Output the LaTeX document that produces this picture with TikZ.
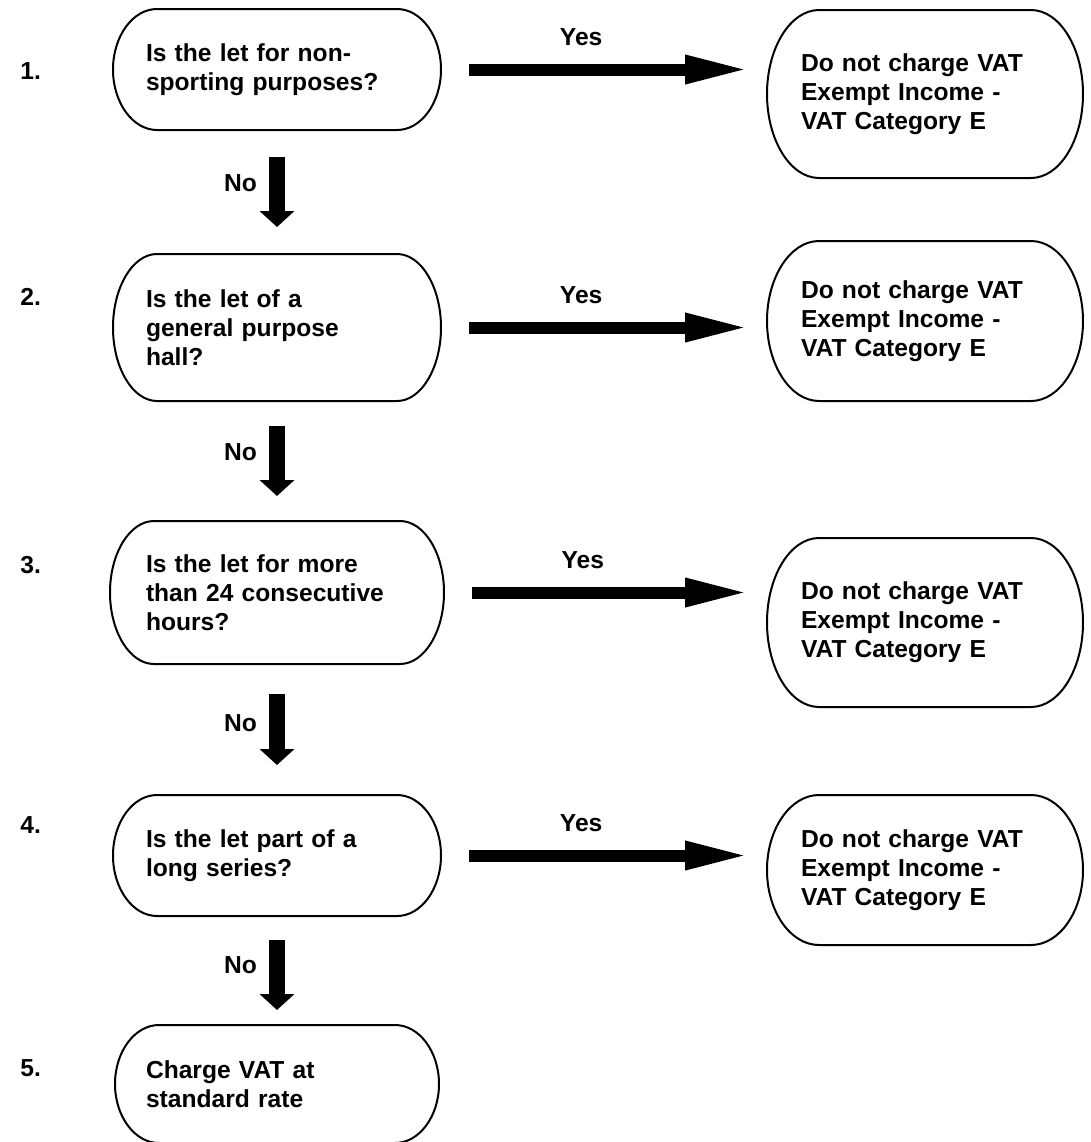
\documentclass[tikz,border=0pt]{standalone}
\usepackage{fontspec}
\setmainfont{Liberation Sans}
\usetikzlibrary{arrows.meta,calc}

\tikzset{
  boxtext/.style={inner sep=0pt, outer sep=0pt, align=left,
    font=\fontsize{12.3pt}{14.5pt}\selectfont\bfseries},
  askbox/.style={boxtext, text width=131pt, minimum width=164pt},
  endbox/.style={boxtext, text width=124pt, minimum width=158pt},
  boxline/.style={line width=1pt, line join=round},
  yesarrow/.style={line width=6pt, -{Triangle[length=32.5pt,width=13pt]},
    shorten <=14pt, shorten >=8.5pt},
  noarrow/.style={line width=8pt, -{Triangle[length=8pt,width=17pt]}},
  steplabel/.style={inner sep=0pt, font=\fontsize{12.3pt}{14.5pt}\selectfont\bfseries}
}

\begin{document}
\begin{tikzpicture}[x=0.5pt,y=-0.5pt]
  \useasboundingbox (0,0) rectangle (1091,1142);

  % Questions
  \node[askbox, minimum height=60.5pt] (q1) at (277,69.5) {Is the let for non-\\sporting purposes?};
  \node[askbox, minimum height=73.5pt] (q2) at (277,327.5) {Is the let of a\\general purpose\\hall?};
  \node[askbox, minimum height=71.5pt, minimum width=167pt] (q3) at (277,592.5) {Is the let for more\\than 24 consecutive\\hours?};
  \node[askbox, minimum height=60.5pt] (q4) at (277,855.5) {Is the let part of a\\long series?};
  \node[askbox, minimum height=59pt, minimum width=162pt] (q5) at (277,1084) {Charge VAT at\\standard rate};

  % Outcomes
  \node[endbox, minimum height=84pt] (r1) at (925,94) {Do not charge VAT\\Exempt Income -\\VAT Category E};
  \node[endbox, minimum height=80pt] (r2) at (925,321) {Do not charge VAT\\Exempt Income -\\VAT Category E};
  \node[endbox, minimum height=84.5pt] (r3) at (925,622.5) {Do not charge VAT\\Exempt Income -\\VAT Category E};
  \node[endbox, minimum height=75pt] (r4) at (925,870) {Do not charge VAT\\Exempt Income -\\VAT Category E};

  % Step numbers
  \node[steplabel, anchor=west] (n1) at (20,71) {1.};
  \node[steplabel, anchor=west] (n2) at (20,297) {2.};
  \node[steplabel, anchor=west] (n3) at (20,565) {3.};
  \node[steplabel, anchor=west] (n4) at (20,825) {4.};
  \node[steplabel, anchor=west] (n5) at (20,1068) {5.};

  % Draw the box outlines
  \foreach \n/\r in {q1/44,q2/44,q3/44,q4/44,q5/44,r1/52,r2/52,r3/52,r4/52}
    \draw[boxline] ($(\n.north west)+(\r,0)$) -- ($(\n.north east)+(-\r,0)$)
      .. controls ($(\n.north east)+(-0.45*\r,0)$) and ($(\n.east)!0.55!(\n.north east)$) .. (\n.east)
      .. controls ($(\n.east)!0.55!(\n.south east)$) and ($(\n.south east)+(-0.45*\r,0)$) .. ($(\n.south east)+(-\r,0)$)
      -- ($(\n.south west)+(\r,0)$)
      .. controls ($(\n.south west)+(0.45*\r,0)$) and ($(\n.west)!0.55!(\n.south west)$) .. (\n.west)
      .. controls ($(\n.west)!0.55!(\n.north west)$) and ($(\n.north west)+(0.45*\r,0)$) .. ($(\n.north west)+(\r,0)$)
      -- cycle;

  % Yes arrows
  \draw[yesarrow] (q1) -- (q1 -| r1.west) node[steplabel, pos=0.43, above=9pt] (y1) {Yes};
  \draw[yesarrow] (q2) -- (q2 -| r2.west) node[steplabel, pos=0.43, above=9pt] (y2) {Yes};
  \draw[yesarrow] (q3) -- (q3 -| r3.west) node[steplabel, pos=0.43, above=9pt] (y3) {Yes};
  \draw[yesarrow] (q4) -- (q4 -| r4.west) node[steplabel, pos=0.43, above=9pt] (y4) {Yes};

  % No arrows
  \draw[noarrow, shorten <=13.5pt, shorten >=13.5pt] (q1) -- (q2) node[steplabel, pos=0.43, left=6pt] (x1) {No};
  \draw[noarrow, shorten <=12.5pt, shorten >=12.5pt] (q2) -- (q3) node[steplabel, pos=0.43, left=6pt] (x2) {No};
  \draw[noarrow, shorten <=15pt, shorten >=15pt] (q3) -- (q4) node[steplabel, pos=0.45, left=6pt] (x3) {No};
  \draw[noarrow, shorten <=12pt, shorten >=7.5pt] (q4) -- (q5) node[steplabel, pos=0.45, left=6pt] (x4) {No};
\end{tikzpicture}
\end{document}
